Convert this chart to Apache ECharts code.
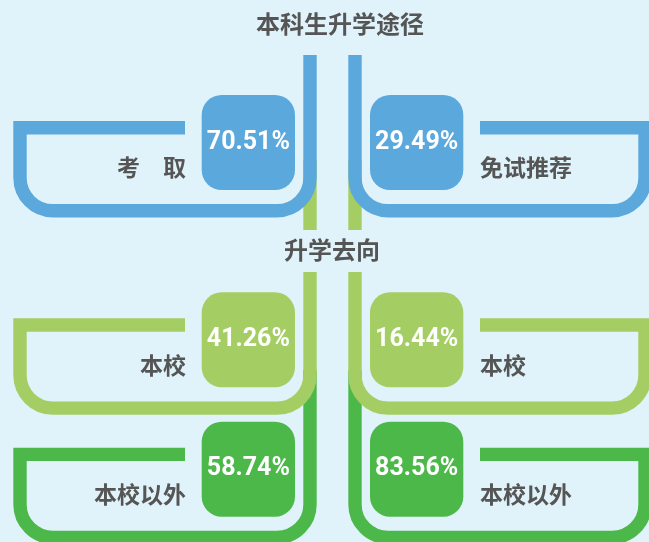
<!DOCTYPE html>
<html>
<head>
<meta charset="utf-8">
<script src="https://cdn.jsdelivr.net/npm/echarts@6/dist/echarts.min.js"></script>
<style>
html,body{margin:0;padding:0;background:#E0F3FA;}
#main{width:649px;height:542px;}
</style>
</head>
<body>
<div id="main"></div>
<script>
// ---- data ----
const titles = ['本科生升学途径', '升学去向'];
const pathLabels = ['考　取', '免试推荐'];
const pathValues = [70.51, 29.49];
const destLabels = ['本校', '本校以外'];
const destExamValues = [41.26, 58.74];   // 考取 students
const destRecValues = [16.44, 83.56];    // 免试推荐 students

// ---- layout (not data) ----
const rowColors = ['#5BA8DC', '#A4CE63', '#4DB84A'];
const rowTop = [121, 318.3, 447.7];      // outer top edge of bracket
const rowStemTop = [55, 272, 370];       // top end of the vertical stem
const MIRROR = 665;                      // x' = MIRROR - x for right side
const SW = 13.4, R = 33, K = 0.5523;

const items = [
  { row: 0, side: 0, label: pathLabels[0], value: pathValues[0] },
  { row: 0, side: 1, label: pathLabels[1], value: pathValues[1] },
  { row: 1, side: 0, label: destLabels[0], value: destExamValues[0] },
  { row: 1, side: 1, label: destLabels[0], value: destRecValues[0] },
  { row: 2, side: 0, label: destLabels[1], value: destExamValues[1] },
  { row: 2, side: 1, label: destLabels[1], value: destRecValues[1] }
];

function bracketPath(T, stemTop, side) {
  const X = side === 0 ? (x) => x : (x) => MIRROR - x;
  const ty = T + SW / 2;
  const B = T + 96.5 - SW / 2;
  const xl = 20, xr = 310, xe = 185;
  const p = [];
  p.push('M' + X(xe) + ' ' + ty);
  p.push('L' + X(xl) + ' ' + ty);
  p.push('L' + X(xl) + ' ' + (B - R));
  p.push('C' + X(xl) + ' ' + (B - R + K * R) + ' ' + X(xl + R - K * R) + ' ' + B + ' ' + X(xl + R) + ' ' + B);
  p.push('L' + X(xr - R) + ' ' + B);
  p.push('C' + X(xr - R + K * R) + ' ' + B + ' ' + X(xr) + ' ' + (B - R + K * R) + ' ' + X(xr) + ' ' + (B - R));
  p.push('L' + X(xr) + ' ' + stemTop);
  return p.join(' ');
}

function renderItem(params, api) {
  const it = items[params.dataIndex];
  const T = rowTop[it.row];
  const color = rowColors[it.row];
  const z = 30 - it.row * 10;
  const side = it.side;
  const boxX = side === 0 ? 201.7 : MIRROR - 295;
  const boxW = 93.3, boxH = 95, boxY = T - 26;
  const children = [];
  if (it.row === 1) {
    const sx = side === 0 ? 310 : MIRROR - 310;
    children.push({
      type: 'line', z2: z - 1,
      shape: { x1: sx, y1: 160, x2: sx, y2: 230 },
      style: { stroke: color, lineWidth: SW, lineCap: 'butt' }
    });
  }
  children.push({
    type: 'path', z2: z,
    shape: { pathData: bracketPath(T, rowStemTop[it.row], side) },
    style: { fill: null, stroke: color, lineWidth: SW, lineJoin: 'miter', lineCap: 'butt' }
  });
  children.push({
    type: 'rect', z2: z + 1,
    shape: { x: boxX, y: boxY, width: boxW, height: boxH, r: 20 },
    style: { fill: color }
  });
  children.push({
    type: 'text', z2: z + 2,
    style: {
      text: api.value(2).toFixed(2) + '%',
      x: boxX + boxW / 2, y: boxY + boxH / 2,
      align: 'center', verticalAlign: 'middle',
      fill: '#ffffff', font: "bold 25px Roboto, 'Noto Sans CJK SC', sans-serif"
    }
  });
  children.push({
    type: 'text', z2: z + 2,
    style: {
      text: it.label,
      x: side === 0 ? 186 : 480, y: T + 46.5,
      align: side === 0 ? 'right' : 'left', verticalAlign: 'middle',
      fill: '#555555', font: "bold 23px 'Noto Sans CJK SC', sans-serif"
    }
  });
  return { type: 'group', children: children };
}

const chart = echarts.init(document.getElementById('main'), null, { renderer: 'canvas' });
chart.setOption({
  backgroundColor: '#E0F3FA',
  animation: false,
  graphic: [
    { type: 'text', x: 340, y: 24, z: 100,
      style: { text: titles[0], align: 'center', verticalAlign: 'middle', fill: '#555555',
               font: "bold 24px 'Noto Sans CJK SC', sans-serif" } },
    { type: 'text', x: 332, y: 250, z: 100,
      style: { text: titles[1], align: 'center', verticalAlign: 'middle', fill: '#555555',
               font: "bold 24px 'Noto Sans CJK SC', sans-serif" } }
  ],
  series: [{
    type: 'custom',
    coordinateSystem: 'none',
    renderItem: renderItem,
    data: items.map(d => [d.row, d.side, d.value])
  }]
});
</script>
</body>
</html>
